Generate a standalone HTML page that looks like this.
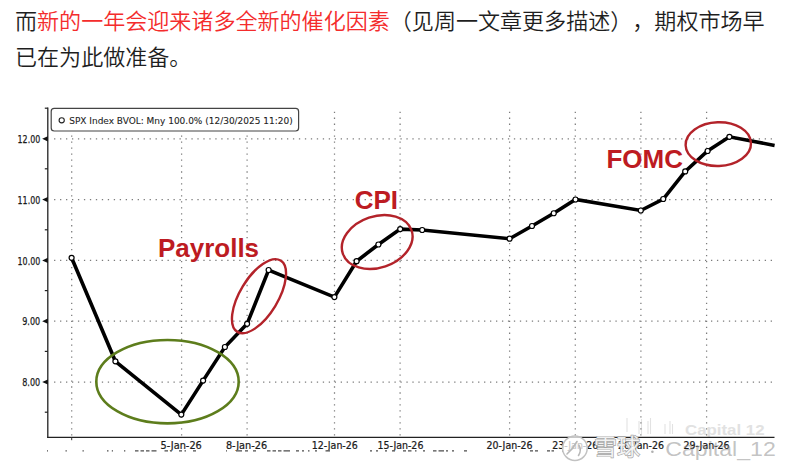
<!DOCTYPE html>
<html><head><meta charset="utf-8">
<style>
html,body{margin:0;padding:0;background:#fff;}
body{width:800px;height:473px;overflow:hidden;position:relative;}
.txt{position:absolute;left:15px;top:3.9px;width:790px;font-family:"Liberation Sans","Noto Sans CJK SC",sans-serif;font-size:22.05px;line-height:36px;color:#1e1e1e;font-weight:350;white-space:nowrap;text-spacing-trim:space-all;}
.r{color:#f42c2c;}
svg{position:absolute;left:0;top:0;}
.g{stroke:#7c7c7c;stroke-width:1.25;stroke-dasharray:1.3 4.672;}
.gv{stroke:#7c7c7c;stroke-width:1.25;stroke-dasharray:1.3 4.672;}
.yl{font-family:"DejaVu Sans",sans-serif;font-size:10.6px;fill:#1a1a1a;stroke:#1a1a1a;stroke-width:0.25;}
.xl{font-family:"DejaVu Sans",sans-serif;font-stretch:condensed;font-size:9.6px;fill:#1a1a1a;stroke:#1a1a1a;stroke-width:0.2;}
.lg{font-family:"DejaVu Sans",sans-serif;font-stretch:condensed;font-size:9px;fill:#222;stroke:#222;stroke-width:0.08;}
.ann{font-family:"Liberation Sans",Arial,sans-serif;font-weight:bold;font-size:26px;fill:#bd1b22;}
.wm1{font-family:"Liberation Sans",Arial,sans-serif;font-weight:bold;font-size:15px;fill:#e2e2e2;}
.wm2{font-size:23px;fill:#fff;fill-opacity:0.85;stroke:#a6a6a6;stroke-width:1.35;paint-order:stroke;}
.wm3{font-family:"Liberation Sans",Arial,sans-serif;font-size:21px;fill:#8a8a8a;fill-opacity:0.52;}
</style></head><body>
<div class="txt">而<span class="r">新的一年会迎来诸多全新的催化因素</span>（见周一文章更多描述），期权市场早<br>已在为此做准备。</div>
<svg width="800" height="473" viewBox="0 0 800 473">
<text x="685" y="435" class="wm1" textLength="79.5" lengthAdjust="spacingAndGlyphs">Capital 12</text>
<line x1="627" y1="418" x2="627" y2="432" stroke="#e2e2e2" stroke-width="1.1"/>
<line x1="639" y1="421" x2="639" y2="434" stroke="#e2e2e2" stroke-width="1.1"/>
<line x1="641.5" y1="419" x2="641.5" y2="434" stroke="#e2e2e2" stroke-width="1.1"/>
<line x1="648" y1="421" x2="648" y2="434" stroke="#e2e2e2" stroke-width="1.1"/>
<line x1="650.5" y1="418" x2="650.5" y2="434" stroke="#e2e2e2" stroke-width="1.1"/>
<line x1="665" y1="424" x2="665" y2="434" stroke="#e2e2e2" stroke-width="1.1"/>
<line x1="670" y1="421" x2="670" y2="434" stroke="#e2e2e2" stroke-width="1.1"/>
<line x1="672.5" y1="424" x2="672.5" y2="434" stroke="#e2e2e2" stroke-width="1.1"/>
<line x1="54.05" y1="138.8" x2="773" y2="138.8" class="g"/>
<line x1="54.05" y1="199.6" x2="773" y2="199.6" class="g"/>
<line x1="54.05" y1="260.4" x2="773" y2="260.4" class="g"/>
<line x1="54.05" y1="321.2" x2="773" y2="321.2" class="g"/>
<line x1="54.05" y1="382.0" x2="773" y2="382.0" class="g"/>
<line x1="71.7" y1="111.65" x2="71.7" y2="437.4" class="gv"/>
<line x1="181.6" y1="111.65" x2="181.6" y2="437.4" class="gv"/>
<line x1="247.1" y1="111.65" x2="247.1" y2="437.4" class="gv"/>
<line x1="334.5" y1="111.65" x2="334.5" y2="437.4" class="gv"/>
<line x1="400.1" y1="111.65" x2="400.1" y2="437.4" class="gv"/>
<line x1="509.6" y1="111.65" x2="509.6" y2="437.4" class="gv"/>
<line x1="575.3" y1="111.65" x2="575.3" y2="437.4" class="gv"/>
<line x1="640.9" y1="111.65" x2="640.9" y2="437.4" class="gv"/>
<line x1="706.6" y1="111.65" x2="706.6" y2="437.4" class="gv"/>
<line x1="47.8" y1="107.5" x2="47.8" y2="438.0" stroke="#222" stroke-width="1.3"/>
<line x1="47.199999999999996" y1="437.4" x2="774.5" y2="437.4" stroke="#222" stroke-width="1.4"/>
<path d="M47.8 136.20000000000002 L42.199999999999996 138.8 L47.8 141.4Z" fill="#111"/>
<text x="17.6" y="143.0" class="yl" textLength="22.6" lengthAdjust="spacingAndGlyphs">12.00</text>
<path d="M47.8 197.0 L42.199999999999996 199.6 L47.8 202.2Z" fill="#111"/>
<text x="17.6" y="203.79999999999998" class="yl" textLength="22.6" lengthAdjust="spacingAndGlyphs">11.00</text>
<path d="M47.8 257.79999999999995 L42.199999999999996 260.4 L47.8 263.0Z" fill="#111"/>
<text x="17.6" y="264.59999999999997" class="yl" textLength="22.6" lengthAdjust="spacingAndGlyphs">10.00</text>
<path d="M47.8 318.59999999999997 L42.199999999999996 321.2 L47.8 323.8Z" fill="#111"/>
<text x="22.2" y="325.4" class="yl" textLength="18.0" lengthAdjust="spacingAndGlyphs">9.00</text>
<path d="M47.8 379.4 L42.199999999999996 382.0 L47.8 384.6Z" fill="#111"/>
<text x="22.2" y="386.2" class="yl" textLength="18.0" lengthAdjust="spacingAndGlyphs">8.00</text>
<line x1="44.8" y1="108.2" x2="47.8" y2="108.2" stroke="#222" stroke-width="1.2"/>
<line x1="44.8" y1="168.8" x2="47.8" y2="168.8" stroke="#222" stroke-width="1.2"/>
<line x1="44.8" y1="229.8" x2="47.8" y2="229.8" stroke="#222" stroke-width="1.2"/>
<line x1="44.8" y1="290.6" x2="47.8" y2="290.6" stroke="#222" stroke-width="1.2"/>
<line x1="44.8" y1="351.4" x2="47.8" y2="351.4" stroke="#222" stroke-width="1.2"/>
<line x1="44.8" y1="412.2" x2="47.8" y2="412.2" stroke="#222" stroke-width="1.2"/>
<line x1="71.7" y1="437.4" x2="71.7" y2="440.2" stroke="#333" stroke-width="1"/>
<text x="160.5" y="448.6" class="xl" textLength="41.3" lengthAdjust="spacingAndGlyphs">5-Jan-26</text>
<text x="225.9" y="448.6" class="xl" textLength="41.3" lengthAdjust="spacingAndGlyphs">8-Jan-26</text>
<text x="311.8" y="448.6" class="xl" textLength="46.0" lengthAdjust="spacingAndGlyphs">12-Jan-26</text>
<text x="377.4" y="448.6" class="xl" textLength="46.0" lengthAdjust="spacingAndGlyphs">15-Jan-26</text>
<text x="486.6" y="448.6" class="xl" textLength="46.0" lengthAdjust="spacingAndGlyphs">20-Jan-26</text>
<text x="552.3" y="448.6" class="xl" textLength="46.0" lengthAdjust="spacingAndGlyphs">23-Jan-26</text>
<text x="618.0" y="448.6" class="xl" textLength="46.0" lengthAdjust="spacingAndGlyphs">26-Jan-26</text>
<text x="683.6" y="448.6" class="xl" textLength="46.0" lengthAdjust="spacingAndGlyphs">29-Jan-26</text>
<rect x="51.2" y="108.4" width="247.4" height="22.6" rx="3" ry="3" fill="#fff" stroke="#444" stroke-width="1.2"/>
<circle cx="61.7" cy="120.3" r="2.6" fill="#fff" stroke="#222" stroke-width="1.1"/>
<text x="69.2" y="123.8" class="lg" textLength="223.5" lengthAdjust="spacingAndGlyphs">SPX Index BVOL: Mny 100.0% (12/30/2025 11:20)</text>
<path d="M71.6,257.8 L115.4,361.3 L181.3,414.6 L203.1,380.6 L224.9,347.0 L247.1,323.8 L268.6,270.0 L334.4,297.1 L356.6,261.2 L378.4,244.5 L400.2,229.1 L422.2,230.0 L509.6,238.7 L532.0,226.0 L553.75,213.25 L575.5,199.5 L640.8,210.5 L663.25,199.0 L685.2,171.4 L707.6,151.0 L729.4,136.8 L774.6,145.4" fill="none" stroke="#000" stroke-width="3.6" stroke-linejoin="miter" stroke-miterlimit="3"/>
<circle cx="71.6" cy="257.8" r="2.5" fill="#fff" stroke="#000" stroke-width="1.2"/>
<circle cx="115.4" cy="361.3" r="2.5" fill="#fff" stroke="#000" stroke-width="1.2"/>
<circle cx="181.3" cy="414.6" r="2.5" fill="#fff" stroke="#000" stroke-width="1.2"/>
<circle cx="203.1" cy="380.6" r="2.5" fill="#fff" stroke="#000" stroke-width="1.2"/>
<circle cx="224.9" cy="347.0" r="2.5" fill="#fff" stroke="#000" stroke-width="1.2"/>
<circle cx="247.1" cy="323.8" r="2.5" fill="#fff" stroke="#000" stroke-width="1.2"/>
<circle cx="268.6" cy="270.0" r="2.5" fill="#fff" stroke="#000" stroke-width="1.2"/>
<circle cx="334.4" cy="297.1" r="2.5" fill="#fff" stroke="#000" stroke-width="1.2"/>
<circle cx="356.6" cy="261.2" r="2.5" fill="#fff" stroke="#000" stroke-width="1.2"/>
<circle cx="378.4" cy="244.5" r="2.5" fill="#fff" stroke="#000" stroke-width="1.2"/>
<circle cx="400.2" cy="229.1" r="2.5" fill="#fff" stroke="#000" stroke-width="1.2"/>
<circle cx="422.2" cy="230.0" r="2.5" fill="#fff" stroke="#000" stroke-width="1.2"/>
<circle cx="509.6" cy="238.7" r="2.5" fill="#fff" stroke="#000" stroke-width="1.2"/>
<circle cx="532.0" cy="226.0" r="2.5" fill="#fff" stroke="#000" stroke-width="1.2"/>
<circle cx="553.75" cy="213.25" r="2.5" fill="#fff" stroke="#000" stroke-width="1.2"/>
<circle cx="575.5" cy="199.5" r="2.5" fill="#fff" stroke="#000" stroke-width="1.2"/>
<circle cx="640.8" cy="210.5" r="2.5" fill="#fff" stroke="#000" stroke-width="1.2"/>
<circle cx="663.25" cy="199.0" r="2.5" fill="#fff" stroke="#000" stroke-width="1.2"/>
<circle cx="685.2" cy="171.4" r="2.5" fill="#fff" stroke="#000" stroke-width="1.2"/>
<circle cx="707.6" cy="151.0" r="2.5" fill="#fff" stroke="#000" stroke-width="1.2"/>
<circle cx="729.4" cy="136.8" r="2.5" fill="#fff" stroke="#000" stroke-width="1.2"/>
<ellipse cx="167.5" cy="381.7" rx="71.2" ry="41.7" fill="none" stroke="#5d7d1c" stroke-width="2.6"/>
<ellipse cx="259" cy="296.2" rx="41.7" ry="19" transform="rotate(-58.8 259 296.2)" fill="none" stroke="#b3232a" stroke-width="2.4"/>
<ellipse cx="377.2" cy="242" rx="36.3" ry="25.7" transform="rotate(-18.7 377.2 242)" fill="none" stroke="#b3232a" stroke-width="2.4"/>
<ellipse cx="718.3" cy="144.1" rx="32.7" ry="21.9" transform="rotate(-2 718.3 144.1)" fill="none" stroke="#b3232a" stroke-width="2.4"/>
<text x="157.9" y="256.8" class="ann">Payrolls</text>
<text x="354.7" y="209.4" class="ann">CPI</text>
<text x="606.4" y="168.4" class="ann">FOMC</text>
<rect x="47" y="450.1" width="1" height="1.5" fill="#6a6a6a"/>
<rect x="65.5" y="450.1" width="1.2999999999999972" height="1.5" fill="#6a6a6a"/>
<rect x="82.5" y="450.1" width="1.2999999999999972" height="1.5" fill="#6a6a6a"/>
<rect x="107" y="450.1" width="1.5" height="1.5" fill="#6a6a6a"/>
<rect x="111.8" y="450.1" width="1.2000000000000028" height="1.5" fill="#6a6a6a"/>
<rect x="124" y="450.1" width="1.2999999999999972" height="1.5" fill="#6a6a6a"/>
<rect x="135" y="450.1" width="3.5" height="1.5" fill="#6a6a6a"/>
<rect x="140.5" y="450.1" width="3.5" height="1.5" fill="#6a6a6a"/>
<rect x="146" y="450.1" width="3.5" height="1.5" fill="#6a6a6a"/>
<rect x="151.5" y="450.1" width="5.0" height="1.5" fill="#6a6a6a"/>
<rect x="164.5" y="450.1" width="3.5" height="1.5" fill="#6a6a6a"/>
<rect x="170" y="450.1" width="2" height="1.5" fill="#6a6a6a"/>
<rect x="179" y="450.1" width="3" height="1.5" fill="#6a6a6a"/>
<rect x="184.5" y="450.1" width="1.5" height="1.5" fill="#6a6a6a"/>
<rect x="193" y="450.1" width="3" height="1.5" fill="#6a6a6a"/>
<rect x="226" y="450.1" width="1" height="1.5" fill="#6a6a6a"/>
<rect x="236" y="450.1" width="6" height="1.5" fill="#6a6a6a"/>
<rect x="245" y="450.1" width="3" height="1.5" fill="#6a6a6a"/>
<rect x="253" y="450.1" width="3" height="1.5" fill="#6a6a6a"/>
<rect x="267" y="450.1" width="3.5" height="1.5" fill="#6a6a6a"/>
<rect x="272.5" y="450.1" width="3.5" height="1.5" fill="#6a6a6a"/>
<rect x="278" y="450.1" width="3.5" height="1.5" fill="#6a6a6a"/>
<rect x="283.5" y="450.1" width="6.5" height="1.5" fill="#6a6a6a"/>
<rect x="296" y="450.1" width="3" height="1.5" fill="#6a6a6a"/>
<rect x="302" y="450.1" width="2" height="1.5" fill="#6a6a6a"/>
<rect x="308" y="450.1" width="1.5" height="1.5" fill="#6a6a6a"/>
<rect x="315" y="450.1" width="2" height="1.5" fill="#6a6a6a"/>
<rect x="325.5" y="450.1" width="4.5" height="1.5" fill="#6a6a6a"/>
<rect x="370" y="450.1" width="2" height="1.5" fill="#6a6a6a"/>
<rect x="376" y="450.1" width="2" height="1.5" fill="#6a6a6a"/>
<rect x="385" y="450.1" width="2" height="1.5" fill="#6a6a6a"/>
<rect x="392" y="450.1" width="3" height="1.5" fill="#6a6a6a"/>
<rect x="403" y="450.1" width="3" height="1.5" fill="#6a6a6a"/>
<rect x="408" y="450.1" width="3.5" height="1.5" fill="#6a6a6a"/>
<rect x="415" y="450.1" width="1.5" height="1.5" fill="#6a6a6a"/>
<rect x="423" y="450.1" width="2" height="1.5" fill="#6a6a6a"/>
<rect x="433" y="450.1" width="3.5" height="1.5" fill="#6a6a6a"/>
<rect x="438.5" y="450.1" width="5.5" height="1.5" fill="#6a6a6a"/>
<rect x="446" y="450.1" width="2" height="1.5" fill="#6a6a6a"/>
<rect x="452" y="450.1" width="2" height="1.5" fill="#6a6a6a"/>
<rect x="464" y="450.1" width="3" height="1.5" fill="#6a6a6a"/>
<rect x="513" y="450.1" width="2" height="1.5" fill="#6a6a6a"/>
<rect x="530" y="450.1" width="3" height="1.5" fill="#6a6a6a"/>
<rect x="535" y="450.1" width="3" height="1.5" fill="#6a6a6a"/>
<rect x="547" y="450.1" width="3" height="1.5" fill="#6a6a6a"/>
<rect x="551.5" y="450.1" width="2.5" height="1.5" fill="#6a6a6a"/>
<rect x="562" y="450.1" width="1" height="1.5" fill="#6a6a6a"/>
<g opacity="1">
<circle cx="574.9" cy="448.2" r="12.3" fill="#fff" fill-opacity="0.75" stroke="#c2c2c2" stroke-width="1.5"/>
<path d="M567 454 C570.5 451 574 447 577 441.5 M579 445.5 C581 449 580.5 452.5 578.5 455.5" fill="none" stroke="#b8b8b8" stroke-width="1.6" stroke-linecap="round"/>
<text x="594" y="454.7" class="wm2" font-family="Liberation Sans, Noto Sans CJK SC, sans-serif">雪球</text>
<circle cx="652.4" cy="451.8" r="1.3" fill="#b0b0b0"/>
<text x="665.3" y="455.6" class="wm3" textLength="110.5" lengthAdjust="spacingAndGlyphs">Capital_12</text>
</g>
</svg>
</body></html>
